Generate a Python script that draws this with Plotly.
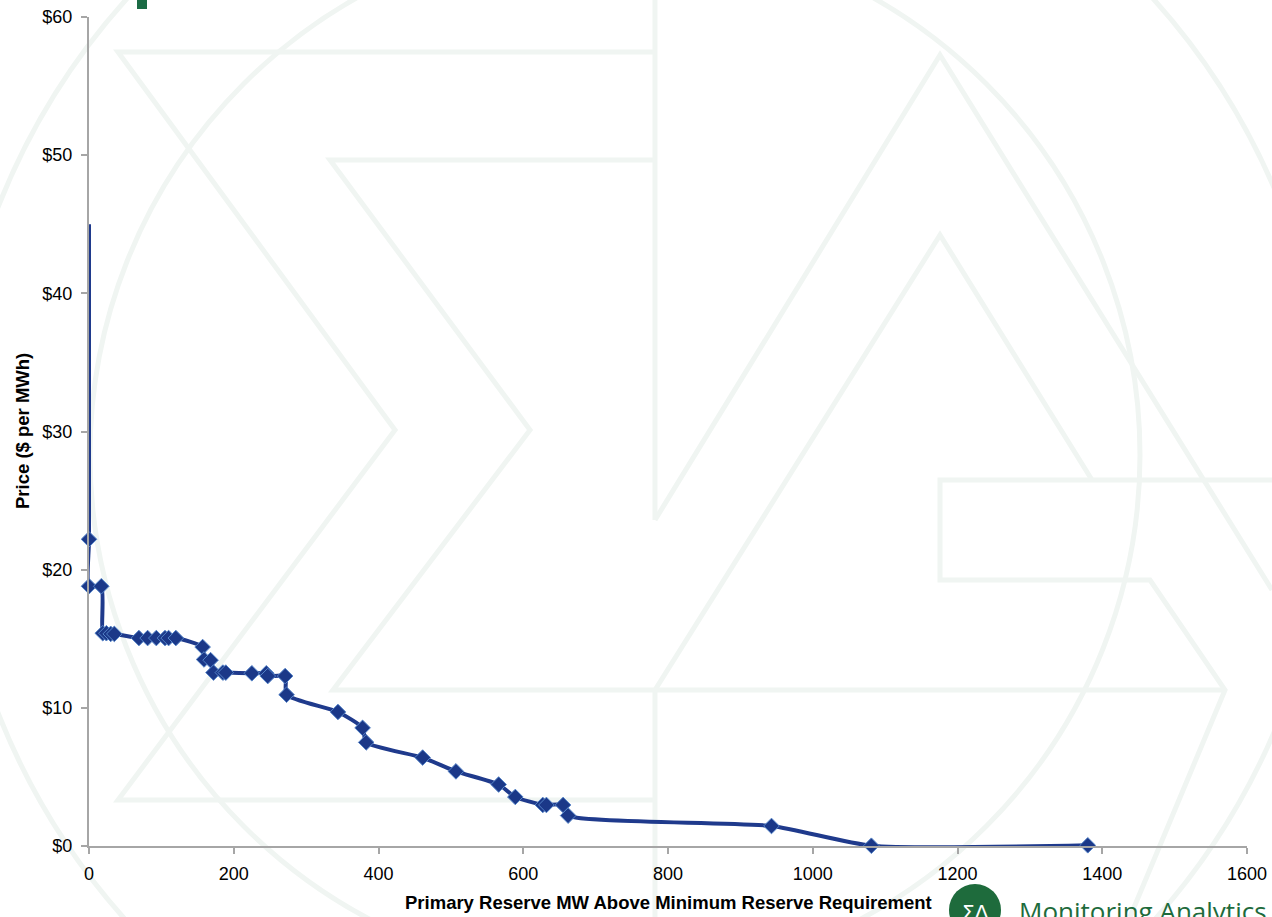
import plotly.graph_objects as go

# ---------------- data ----------------
reserve_mw = [0, 0, 0, 17, 19, 24, 30, 35, 69, 81, 93, 105, 110, 120,
              157, 159, 168, 172, 185, 189, 225, 245, 247, 271, 273,
              344, 378, 383, 461, 507, 566, 589, 627, 632, 655, 662,
              943, 1081, 1380]
price = [45.0, 22.2, 18.8, 18.8, 15.4, 15.4, 15.35, 15.35, 15.05, 15.05, 15.05, 15.05, 15.05, 15.05,
         14.4, 13.5, 13.45, 12.55, 12.55, 12.55, 12.5, 12.5, 12.3, 12.3, 10.95,
         9.7, 8.55, 7.5, 6.4, 5.4, 4.45, 3.55, 2.97, 2.97, 2.97, 2.2,
         1.45, 0.02, 0.05]
marker_sizes = [0] + [12] * (len(price) - 1)

x_ticks = [0, 200, 400, 600, 800, 1000, 1200, 1400, 1600]
y_ticks = [0, 10, 20, 30, 40, 50, 60]
y_tick_labels = ["$" + str(v) for v in y_ticks]

# ---------------- layout geometry ----------------
W, H = 1272, 917
L, R, T, B = 89, 25, 17, 71
PW, PH = W - L - R, H - T - B


def px(x):
    return (x - L) / PW


def py(y):
    return (H - B - y) / PH


fig = go.Figure()
fig.add_trace(go.Scatter(
    x=reserve_mw, y=price, mode="lines+markers",
    line=dict(color="#1F3A8C", width=4, shape="spline", smoothing=0.6),
    marker=dict(symbol="diamond", size=marker_sizes, color="#1B3888", opacity=1,
                line=dict(color="#5584C8", width=1)),
    showlegend=False, cliponaxis=False,
))

# ---------------- watermark (faint logo outline) ----------------
WM = "#F0F5F2"
shapes = []


def poly(points, closed=False):
    d = "M " + " L ".join(f"{px(a):.5f},{py(b):.5f}" for a, b in points)
    if closed:
        d += " Z"
    shapes.append(dict(type="path", path=d, xref="paper", yref="paper",
                       line=dict(color=WM, width=5), layer="below"))


# ring (outer and inner edge)
for (cx, cy, r) in [(640, 460, 690), (615, 455, 525)]:
    shapes.append(dict(type="circle", xref="paper", yref="paper",
                       x0=px(cx - r), x1=px(cx + r), y0=py(cy + r), y1=py(cy - r),
                       line=dict(color=WM, width=5), layer="below"))
# sigma outer / inner
poly([(655, 52), (118, 52), (395, 430), (118, 800), (655, 800)])
poly([(655, 160), (330, 160), (530, 430), (333, 690), (1225, 690)])
poly([(655, 0), (655, 520)])
poly([(655, 690), (655, 917)])
# A outer / inner
poly([(655, 520), (940, 55), (1272, 590)])
poly([(655, 690), (940, 235), (1092, 480)])
poly([(1272, 480), (940, 480), (940, 580), (1150, 580), (1225, 690), (1130, 917)])

# green logo fragment at top
shapes.append(dict(type="rect", xref="paper", yref="paper",
                   x0=px(137), x1=px(147), y0=py(9), y1=py(0) + 0.01,
                   fillcolor="#1B6B45", line=dict(width=0), layer="above"))
# bottom logo circle
shapes.append(dict(type="circle", xref="paper", yref="paper",
                   x0=px(949), x1=px(1001), y0=py(936), y1=py(884),
                   fillcolor="#1E6B3C", line=dict(width=0), layer="above"))

fig.update_layout(shapes=shapes)

annotations = [
    dict(text="<b>Price ($ per MWh)</b>", xref="paper", yref="paper",
         x=px(22), y=py(431), textangle=-90, showarrow=False,
         font=dict(family="Liberation Sans, Arial", size=18.5, color="black"),
         xanchor="center", yanchor="middle"),
    dict(text="<b>Primary Reserve MW Above Minimum Reserve Requirement</b>",
         xref="paper", yref="paper", x=px(668), y=py(903), showarrow=False,
         font=dict(family="Liberation Sans, Arial", size=18.5, color="black"),
         xanchor="center", yanchor="middle"),
    dict(text="ΣΛ", xref="paper", yref="paper", x=px(975), y=py(912), showarrow=False,
         font=dict(family="DejaVu Sans", size=20, color="white"),
         xanchor="center", yanchor="middle"),
    dict(text="Monitoring Analytics", xref="paper", yref="paper", x=px(1017), y=py(891),
         showarrow=False, font=dict(family="Open Sans", size=26, color="#1E6B3C"),
         xanchor="left", yanchor="top"),
]
fig.update_layout(annotations=annotations)

axis_font = dict(family="Liberation Sans, Arial", size=18, color="black")
fig.update_xaxes(range=[0, 1600], tickvals=x_ticks, ticktext=[str(v) for v in x_ticks],
                 showgrid=False, zeroline=False, showline=True, linecolor="#A6A6A6",
                 linewidth=2, ticks="outside", ticklen=6, tickcolor="#A6A6A6",
                 tickwidth=1.5, tickfont=axis_font, ticklabelstandoff=4, fixedrange=True)
fig.update_yaxes(range=[0, 60], tickvals=y_ticks, ticktext=y_tick_labels,
                 showgrid=False, zeroline=False, showline=True, linecolor="#A6A6A6",
                 linewidth=2, ticks="outside", ticklen=6, tickcolor="#A6A6A6",
                 tickwidth=1.5, tickfont=axis_font, ticklabelstandoff=5, fixedrange=True)

fig.update_layout(width=W, height=H, margin=dict(l=L, r=R, t=T, b=B, autoexpand=False),
                  plot_bgcolor="rgba(0,0,0,0)", paper_bgcolor="white",
                  font=dict(family="Liberation Sans, Arial"))

fig.write_html("out.html", config={"displayModeBar": False},
               post_script="document.body.style.margin='0';document.body.style.overflow='hidden';")
